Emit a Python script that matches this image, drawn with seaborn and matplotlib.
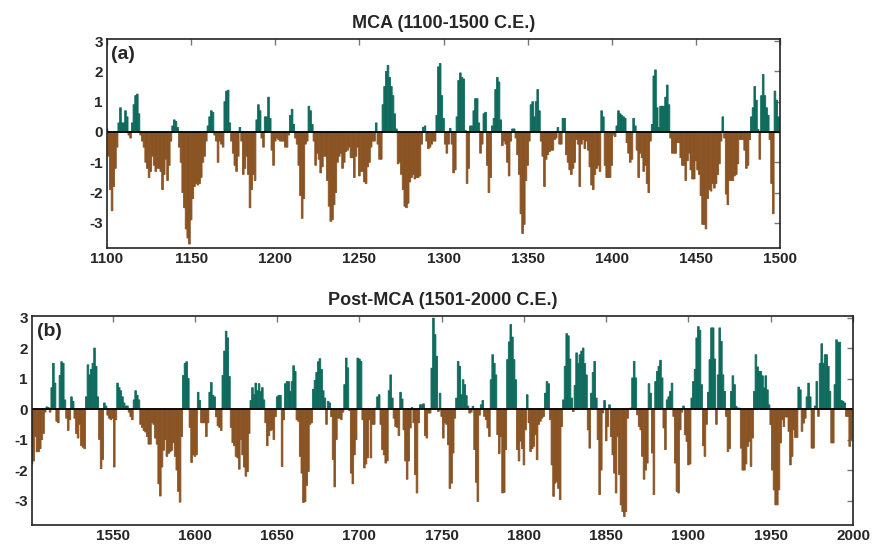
import numpy as np
import pandas as pd
import matplotlib
matplotlib.use("Agg")
import matplotlib.pyplot as plt
import seaborn as sns

# ---------------- data ----------------
mca_1100s = [
    0.1, -0.8, -1.9, -2.6, -1.8, -1.2, -0.5, 0.3, 0.8, 0.3,
    0.3, 0.7, 0.5, -0.1, -0.2, 0.3, 0.9, 1.2, 1.25, 0.6,
    -0.1, -0.3, -0.5, -1.0, -1.2, -1.5, -1.3, -0.8, -1.1, -1.3,
    -1.2, -1.2, -1.3, -1.9, -1.4, -0.9, -1.6, -1.1, -0.3, 0.2,
    0.4, 0.35, 0.15, -0.5, -1.0, -2.0, -2.5, -3.2, -3.5, -3.7,
    -2.9, -2.2, -1.8, -1.7, -1.75, -1.7, -1.5, -1.0, -0.8, -0.3,
    0.2, 0.5, 0.7, 0.65, -0.1, -0.3, -1.0, -0.3, -0.4, -0.5,
    1.0, 1.35, 1.38, 0.3, -0.3, -0.7, -1.1, -1.3, -0.8, 0.15,
    -0.3, -1.4, -1.2, -0.8, -1.4, -2.5, -1.9, -1.4, -1.6, 0.4,
    0.9, 0.7, -0.2, -0.5, 0.5, 0.5, 1.15, 0.45, -0.6, -1.1,
]
mca_1200s = [
    -0.3, -0.2, -0.25, -0.3, -0.3, -0.3, -0.5, -0.5, -0.1, 0.55,
    0.75, 0.25, -0.2, -0.4, -1.1, -2.1, -2.85, -2.2, -0.4, -0.3,
    0.85, 0.7, 0.25, -0.3, -1.1, -0.7, -0.9, -1.35, -1.15, -0.8,
    -0.8, -1.6, -2.45, -2.95, -2.9, -2.4, -2.0, -1.0, -0.8, -0.7,
    -1.2, -1.0, -0.65, -0.6, -0.5, -0.85, -0.85, -1.5, -0.8, -0.5,
    -1.45, -1.3, -1.3, -1.65, -1.7, -1.15, -1.0, -0.5, -0.3, -0.3,
    0.3, -0.4, -0.9, -0.9, 0.9, 1.5, 2.0, 2.2, 1.8, 1.5,
    1.2, 0.6, 0.1, -1.05, -1.0, -1.4, -1.9, -2.45, -2.5, -2.35,
    -1.65, -1.5, -1.4, -1.55, -1.5, -1.5, -1.45, -0.4, 0.15, 0.2,
    -0.3, -0.55, -0.5, -0.4, -0.3, -0.3, 0.55, 2.15, 2.26, 1.2,
]
mca_1300s = [
    0.45, -0.4, -0.7, -0.4, 0.12, -0.4, -1.35, -1.25, 0.5, 1.7,
    1.95, 1.8, 1.75, 0.05, -1.7, -1.2, 0.2, 0.2, 0.7, 1.1,
    1.1, 0.3, -0.7, -0.4, 0.6, 0.65, -1.1, -2.0, -1.5, 0.2,
    0.45, 1.4, 1.8, 1.65, 0.4, -0.45, -0.3, -0.4, -1.0, -1.45,
    -0.3, 0.1, 0.1, -0.2, -0.75, -1.4, -2.7, -3.35, -3.05, -1.6,
    -1.1, -0.3, 0.9, 1.0, 0.5, 1.0, 1.4, 0.7, -0.3, -0.8,
    -1.8, -0.9, -0.75, -0.65, -0.6, -0.6, -0.25, -0.2, 0.15, -0.4,
    -0.4, 0.45, 0.45, -0.75, -1.0, -1.25, -1.4, -1.2, -1.0, -0.25,
    -0.4, -1.8, -0.4, -0.25, -0.55, -0.3, -0.6, -1.15, -1.75, -1.9,
    -1.4, -1.2, -1.1, -1.3, 0.7, 0.5, -1.1, -1.5, -1.5, -1.5,
]
mca_1400s = [
    -1.1, -0.1, -0.15, 0.2, 0.7, 0.6, 0.55, 0.5, 0.45, -0.35,
    -0.7, -1.0, -0.9, 0.45, 0.2, -0.6, -1.5, -0.7, -0.85, -1.3,
    -1.1, -1.7, -2.0, -0.3, 0.25, 1.85, 2.05, 0.8, 0.15, 0.85,
    0.85, 0.85, 1.15, 1.55, 0.9, -0.2, -0.7, -0.7, -0.7, -0.35,
    -0.35, -0.85, -1.1, -1.1, -1.6, -0.95, -0.7, -1.25, -1.55, -1.55,
    -0.95, -1.25, -1.4, -2.1, -3.05, -3.05, -3.2, -2.2, -1.9, -1.95,
    -1.7, -1.85, -1.7, -1.4, -1.05, -0.3, 0.5, -0.2, -2.05, -2.4,
    -1.6, -1.6, -1.6, -1.45, -1.4, -1.05, -0.25, -0.25, -0.25, -0.6,
    -1.2, -1.1, -0.25, 0.5, 0.8, 1.5, 1.05, 0.08, -0.9, 1.2,
    1.9, 1.2, 0.8, 0.55, -0.25, -1.7, -2.7, 1.35, 1.05, 0.5,
]

post_1501_1600 = [
    -1.8, -1.7, -0.9, -1.4, -1.4, -1.3, -1.0, -0.8, -0.1, 0.07,
    0.05, -0.1, 0.7, 1.5, 0.85, -0.4, -0.45, 1.1, 1.55, 1.5,
    0.3, -0.3, -0.7, -0.35, 0.4, 0.25, -0.3, -0.8, -0.95, -0.5,
    -1.2, -1.25, -1.3, 0.4, 1.45, 1.12, 1.3, 1.5, 2.0, 1.4,
    0.4, -1.0, -1.95, -1.65, 0.2, 0.1, -0.2, -0.3, -0.35, -0.3,
    -1.9, -0.35, 0.85, 0.7, 0.6, 0.4, 0.2, 0.1, 0.1, -0.1,
    -0.25, -0.35, 0.3, 0.6, 0.45, 0.3, -0.5, -0.6, -0.7, -0.75,
    -0.9, -1.15, -1.15, -0.45, -0.5, -0.95, -1.15, -2.45, -2.85, -1.9,
    -1.35, -1.0, -1.55, -1.45, -1.4, -1.35, -1.1, -1.55, -2.0, -2.7,
    -3.05, -0.9, 1.1, 1.5, 1.55, 1.0, -0.6, -1.75, -1.5, -1.55,
]
post_1601_1700 = [
    -1.5, 0.55, 0.28, -0.45, -0.45, -0.45, -0.9, -0.45, 0.55, 0.87,
    0.45, 0.4, -0.25, -0.55, -0.6, -0.7, 1.1, 1.9, 2.55, 2.33,
    1.07, -0.6, -1.1, -1.2, -1.55, -1.6, -1.97, -1.0, -1.5, -1.9,
    -2.2, -2.05, -0.8, 0.28, 0.7, 0.47, 0.85, 0.6, 0.83, 0.58,
    0.7, 0.3, -0.45, -1.2, -0.87, -0.7, -0.68, -1.0, -0.25, 0.4,
    0.45, 0.45, -1.88, -0.35, 0.83, 0.9, 0.9, 0.58, 0.9, 1.42,
    1.23, -0.35, -0.4, -1.55, -2.1, -3.06, -3.03, -2.5, -2.05, -0.5,
    -0.45, 0.65, 0.94, 1.2, 1.55, 1.65, 1.3, 0.6, 0.36, -0.5,
    0.25, 0.2, -0.25, -1.65, -2.55, -1.0, -0.3, -0.3, -0.35, -0.1,
    0.8, 1.67, 1.35, -0.05, -2.1, -2.45, -1.5, -1.0, 1.67, 1.64,
]
post_1701_1800 = [
    1.56, -0.35, -1.93, -1.8, -1.6, -0.35, -1.6, -0.5, -0.5, 0.03,
    0.4, 0.47, -0.5, -1.33, -1.5, -1.77, -1.7, 0.6, 1.12, 0.36,
    -0.3, -0.57, -0.6, -0.87, 0.55, 0.33, -0.68, -1.7, -2.3, -1.7,
    -0.62, 0.05, -0.45, -2.15, -2.75, -0.45, 0.14, 0.14, 0.17, -0.87,
    -0.95, -0.13, -0.13, 1.34, 2.98, 2.44, 1.73, -0.08, 0.52, -0.24,
    -0.95, -0.45, -0.5, -1.17, -2.6, -2.43, -1.44, -0.3, 0.36, 1.56,
    1.4, 0.47, 0.96, 0.8, 0.44, 0.1, -0.13, -0.1, 0.09, -1.33,
    -2.4, -3.03, -0.2, 0.14, 0.28, -0.24, -0.35, -0.62, -0.9, 0.96,
    1.78, 1.5, 1.12, -0.84, -1.46, -0.9, -2.75, -2.73, -1.33, 1.62,
    2.2, 2.77, 2.36, 1.62, 0.96, -1.33, -1.7, -1.05, -1.3, -1.83,
]
post_1801_1900 = [
    -0.68, 0.47, -0.45, -1.39, -1.3, -1.22, -0.84, -1.66, -0.5, -0.4,
    -0.3, -0.24, 0.52, 0.9, 0.83, -0.35, -1.83, -2.86, -2.43, -2.37,
    -2.6, -2.97, -0.57, 0.3, 1.4, 2.47, 2.4, 1.64, 0.36, -0.08,
    0.77, 1.84, 1.5, 1.78, 1.9, 2.0, 1.49, 1.12, -0.68, -1.28,
    0.52, 1.2, 1.56, 0.36, -1.0, -2.8, -2.0, -0.13, 0.28, -1.04,
    -0.57, 0.14, -0.9, -1.5, -2.1, -2.75, -0.9, -2.15, -3.14, -3.36,
    -3.52, -3.36, -0.3, -0.02, 0.03, 1.02, 1.56, 1.02, -0.19, -0.57,
    -0.68, -1.55, -2.3, -2.0, -1.77, 0.83, 0.52, -1.44, -2.8, 0.9,
    1.23, 1.4, 1.6, 1.02, -0.62, -1.33, 0.3, 0.4, 0.58, 0.85,
    -0.24, -1.77, -2.7, -2.75, -0.68, -0.1, 0.1, -0.84, -1.06, -1.83,
]
post_1901_1999 = [
    -1.8, 0.36, 0.9, 1.3, 2.33, 2.7, 2.58, 0.8, -1.2, -1.55,
    -0.5, 0.55, 1.62, 2.66, 2.66, 1.64, -0.5, 1.12, 2.66, 2.22,
    1.12, 0.58, -0.24, -1.39, -1.3, 0.58, 1.09, 0.8, 0.09, 0.03,
    0.03, -1.28, -2.0, -2.0, -1.8, -1.22, -1.06, -1.88, -0.95, 0.58,
    1.78, 1.38, 1.23, 1.23, 1.09, 0.69, 1.09, 0.63, 0.14, -0.51,
    -2.0, -2.65, -3.14, -3.14, -2.65, -1.11, -0.35, -0.57, -0.26, -0.26,
    -0.73, -1.83, -1.55, -0.68, -0.93, -0.93, 0.72, 0.63, -0.73, -0.46,
    -0.3, 0.4, 0.85, 0.4, -1.28, -1.28, 0.1, 0.9, -0.24, 1.5,
    2.14, 1.5, 1.78, 1.78, 1.4, 0.58, -1.11, -1.11, 0.8, 2.27,
    2.19, 2.19, 0.28, 0.25, 0.2, -0.24, -0.24, -1.22, -1.0,
]

mca_title = "MCA (1100-1500 C.E.)"
post_title = "Post-MCA (1501-2000 C.E.)"
mca_xticks = [1100, 1150, 1200, 1250, 1300, 1350, 1400, 1450, 1500]
post_xticks = [1550, 1600, 1650, 1700, 1750, 1800, 1850, 1900, 1950, 2000]
yticks = [-3, -2, -1, 0, 1, 2, 3]

TEAL = "#0f6b5d"
BROWN = "#8a5323"

# ---------------- figure ----------------
sns.set_theme(style="white")
plt.rcParams["font.family"] = ["Liberation Sans", "DejaVu Sans"]
plt.rcParams["axes.unicode_minus"] = False

fig = plt.figure(figsize=(8.72, 5.46), dpi=100)
ax1 = fig.add_axes([107 / 872, 1 - 248 / 546, 673 / 872, 209 / 546])
ax2 = fig.add_axes([32 / 872, 1 - 525 / 546, 821 / 872, 209 / 546])


def panel(ax, start, vals, xlim, ylim, xticks, title, tag):
    years = np.arange(start, start + len(vals))
    df = pd.DataFrame({"year": years, "value": vals})
    df["sign"] = np.where(df["value"] >= 0, "pos", "neg")
    sns.barplot(data=df, x="year", y="value", hue="sign",
                palette={"pos": TEAL, "neg": BROWN}, native_scale=True,
                width=1.0, dodge=False, legend=False, errorbar=None,
                saturation=1, ax=ax)
    # make every bar span exactly one year and close pixel-snapping gaps
    for p in ax.patches:
        cx = p.get_x() + p.get_width() / 2.0
        p.set_width(1.0)
        p.set_x(cx - 0.5)
        p.set_snap(False)
        p.set_edgecolor(p.get_facecolor())
        p.set_linewidth(0.6)
    ax.axhline(0, color="black", lw=1.3, zorder=5)
    ax.set_xlim(*xlim)
    ax.set_ylim(*ylim)
    ax.set_xticks(xticks)
    ax.set_xticklabels([str(v) for v in xticks], fontweight="bold", fontsize=11)
    ax.set_yticks(yticks)
    ax.set_yticklabels([str(v) for v in yticks], fontweight="bold", fontsize=11)
    ax.set_xlabel("")
    ax.set_ylabel("")
    ax.tick_params(direction="in", top=True, right=True, length=4, width=1,
                   color="#777777", pad=3)
    for s in ax.spines.values():
        s.set_visible(True)
        s.set_color("#222222")
        s.set_linewidth(1.2)
        s.set_zorder(6)
    ax.set_title(title, fontsize=13, fontweight="bold", pad=8)
    ax.text(0.006, 0.965, tag, transform=ax.transAxes, fontsize=14,
            fontweight="bold", va="top", ha="left", zorder=7)


panel(ax1, 1100, mca_1100s + mca_1200s + mca_1300s + mca_1400s,
      (1100, 1500), (-3.83, 3.07), mca_xticks, mca_title, "(a)")
panel(ax2, 1501, post_1501_1600 + post_1601_1700 + post_1701_1800
      + post_1801_1900 + post_1901_1999,
      (1501, 2000), (-3.8, 3.05), post_xticks, post_title, "(b)")

fig.savefig("out.png", dpi=100)
